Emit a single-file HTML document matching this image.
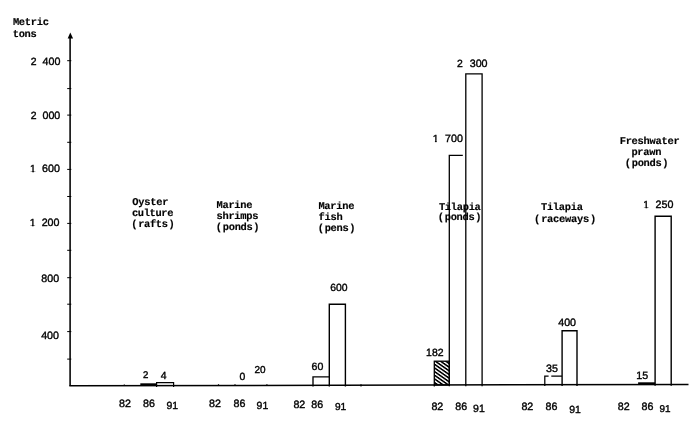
<!DOCTYPE html>
<html lang="en">
<head>
<meta charset="utf-8">
<title>Aquaculture production chart</title>
<style>
html,body{margin:0;padding:0;background:#fff;}
body{width:700px;height:427px;overflow:hidden;}
svg{display:block;will-change:transform;}
.d{font-family:"Liberation Sans",sans-serif;fill:#000;stroke:#000;stroke-width:.38px;}
.m{font-family:"Liberation Mono",monospace;font-weight:bold;font-size:10.4px;fill:#000;stroke:#000;stroke-width:.15px;}
.l{stroke:#000;fill:none;}
.k{fill:#000;stroke:none;}
text{text-rendering:geometricPrecision;}
</style>
</head>
<body>
<svg width="700" height="427" viewBox="0 0 700 427">
<defs>
<pattern id="h" patternUnits="userSpaceOnUse" width="8" height="3.65" patternTransform="translate(0,0.67) skewY(35)">
<rect class="k" x="0" y="0" width="8" height="1.95"/>
</pattern>
<clipPath id="c1"><path d="M-1 -9H7V-1.05H3.9V1H2.2V-1.05H-1Z"/></clipPath>
</defs>

<g class="l">
<path d="M70.1 38V385.8" stroke-width="1.55"/>
<path d="M67.2 60.7H71.3M67.2 88.6H71.3M67.2 115.1H71.3M67.2 142.3H71.3M67.2 169.4H71.3M67.2 196.5H71.3M67.2 223.4H71.3M67.2 250.3H71.3M67.2 277.7H71.3M67.2 304.2H71.3M67.2 331.6H71.3M67.2 359.1H71.3" stroke-width="1"/>
<path d="M69.3 385.85L688.5 384.40" stroke-width="1.5"/>
<!-- group 1 -->
<path d="M140.3 384.3H156.6" stroke-width="2"/>
<path d="M156.6 386.95V382.6H173.6V386.91" stroke-width="1.2"/>
<!-- group 3 -->
<path d="M313 386.58V376.8H329.2" stroke-width="1.35"/>
<path d="M329.3 386.54V304.3H345.4V386.50" stroke-width="1.4"/>
<!-- group 4 -->
<rect x="434.3" y="361.2" width="15" height="23.78" fill="url(#h)" stroke-width="1.3"/>
<path d="M449.3 386.26V155.4H462.8" stroke-width="1.3"/>
<path d="M465.8 386.22V73.9H482.1V386.18" stroke-width="1.3"/>
<!-- group 5 -->
<path d="M544.8 386.04V376H548.6M551.3 376H562" stroke-width="1.25"/>
<path d="M562.1 386.00V330.7H577V385.96" stroke-width="1.4"/>
<!-- group 6 -->
<path d="M638.1 383.4H655.1" stroke-width="2.2"/>
<path d="M655.1 385.78V216.2H671.2V385.74" stroke-width="1.4"/>
<!-- small tick marks on baseline -->
<path d="M124.3 384.4v1M218.5 384.3v1M235 384.3v1M266.9 384.2v1M361 384.2v2.2M434.3 385v1.4" stroke-width="1.2"/>
</g>
<path class="k" d="M70.3 32.4L67.7 38.6H73.1Z"/>
<text class="d" x="30.66" y="65.00" font-size="10.40">2</text>
<text class="d" x="42.56" y="64.90" font-size="10.70">400</text>
<text class="d" x="30.66" y="118.90" font-size="10.40">2</text>
<text class="d" x="42.47" y="118.80" font-size="10.70">000</text>
<g transform="translate(30.05 172.30)" clip-path="url(#c1)"><text class="d" x="0" y="0" font-size="10.30">1</text></g>
<text class="d" x="42.11" y="172.20" font-size="10.70">600</text>
<g transform="translate(29.75 226.30)" clip-path="url(#c1)"><text class="d" x="0" y="0" font-size="10.30">1</text></g>
<text class="d" x="41.66" y="226.20" font-size="10.70">200</text>
<text class="d" x="41.30" y="281.70" font-size="10.70">800</text>
<text class="d" x="41.16" y="338.80" font-size="10.70">400</text>
<text class="d" x="143.08" y="377.60" font-size="9.60">2</text>
<text class="d" x="160.69" y="378.80" font-size="10.40">4</text>
<text class="d" x="239.56" y="379.90" font-size="10.40">0</text>
<text class="d" x="254.40" y="372.70" font-size="9.97">20</text>
<text class="d" x="311.56" y="370.20" font-size="10.56">60</text>
<text class="d" x="330.17" y="291.00" font-size="10.39">600</text>
<text class="d" x="426.10" y="355.60" font-size="10.44">182</text>
<g transform="translate(432.75 141.70)" clip-path="url(#c1)"><text class="d" x="0" y="0" font-size="10.30">1</text></g>
<text class="d" x="445.01" y="141.60" font-size="10.70">700</text>
<text class="d" x="457.11" y="67.40" font-size="10.40">2</text>
<text class="d" x="469.73" y="67.30" font-size="10.70">300</text>
<text class="d" x="546.12" y="371.90" font-size="10.70">35</text>
<text class="d" x="558.21" y="326.00" font-size="10.70">400</text>
<text class="d" x="636.37" y="379.10" font-size="10.70">15</text>
<g transform="translate(643.35 208.40)" clip-path="url(#c1)"><text class="d" x="0" y="0" font-size="10.30">1</text></g>
<text class="d" x="655.51" y="208.30" font-size="10.70">250</text>
<text class="d" x="118.94" y="406.50" font-size="10.70">82</text>
<text class="d" x="143.10" y="406.50" font-size="10.70">86</text>
<text class="d" x="166.41" y="408.70" font-size="10.43">91</text>
<text class="d" x="209.09" y="407.00" font-size="10.70">82</text>
<text class="d" x="233.45" y="407.00" font-size="10.70">86</text>
<text class="d" x="256.61" y="409.00" font-size="10.43">91</text>
<text class="d" x="293.39" y="408.20" font-size="10.70">82</text>
<text class="d" x="311.20" y="408.20" font-size="10.70">86</text>
<text class="d" x="334.93" y="409.90" font-size="10.13">91</text>
<text class="d" x="431.39" y="409.60" font-size="10.70">82</text>
<text class="d" x="455.30" y="409.60" font-size="10.70">86</text>
<text class="d" x="473.11" y="411.60" font-size="10.53">91</text>
<text class="d" x="521.39" y="410.20" font-size="10.70">82</text>
<text class="d" x="545.45" y="410.20" font-size="10.70">86</text>
<text class="d" x="569.21" y="412.50" font-size="10.43">91</text>
<text class="d" x="617.74" y="410.20" font-size="10.70">82</text>
<text class="d" x="641.55" y="410.20" font-size="10.70">86</text>
<text class="d" x="659.45" y="412.30" font-size="9.90">91</text>
<text class="m" x="12.90" y="25.40" letter-spacing="-0.286">Metric</text>
<text class="m" x="12.67" y="36.90" letter-spacing="-0.260">tons</text>
<text class="m" x="132.32" y="204.60" letter-spacing="-0.260">Oyster</text>
<text class="m" x="131.94" y="215.90" letter-spacing="-0.352">culture</text>
<text class="m" x="131.15" y="227.20" letter-spacing="-0.364">(<tspan dx="1.2">rafts</tspan><tspan dx="0.9">)</tspan></text>
<text class="m" x="216.50" y="207.50" letter-spacing="-0.286">Marine</text>
<text class="m" x="216.45" y="218.70" letter-spacing="-0.260">shrimps</text>
<text class="m" x="215.75" y="230.30" letter-spacing="-0.331">(<tspan dx="1.2">ponds</tspan><tspan dx="0.9">)</tspan></text>
<text class="m" x="318.40" y="208.60" letter-spacing="-0.286">Marine</text>
<text class="m" x="318.53" y="219.80" letter-spacing="-0.260">fish</text>
<text class="m" x="317.65" y="231.10" letter-spacing="-0.349">(<tspan dx="1.2">pens</tspan><tspan dx="0.9">)</tspan></text>
<text class="m" x="438.89" y="209.70" letter-spacing="-0.285">Tilapia</text>
<text class="m" x="437.75" y="220.40" letter-spacing="-0.348">(<tspan dx="1.2">ponds</tspan><tspan dx="0.9">)</tspan></text>
<text class="m" x="540.91" y="210.40" letter-spacing="-0.260">Tilapia</text>
<text class="m" x="533.95" y="221.70" letter-spacing="-0.256">(<tspan dx="1.2">raceways</tspan><tspan dx="0.9">)</tspan></text>
<text class="m" x="619.67" y="143.90" letter-spacing="-0.260">Freshwater</text>
<text class="m" x="631.39" y="154.70" letter-spacing="-0.264">prawn</text>
<text class="m" x="624.75" y="166.30" letter-spacing="-0.348">(<tspan dx="1.2">ponds</tspan><tspan dx="0.9">)</tspan></text>
</svg>
</body>
</html>
